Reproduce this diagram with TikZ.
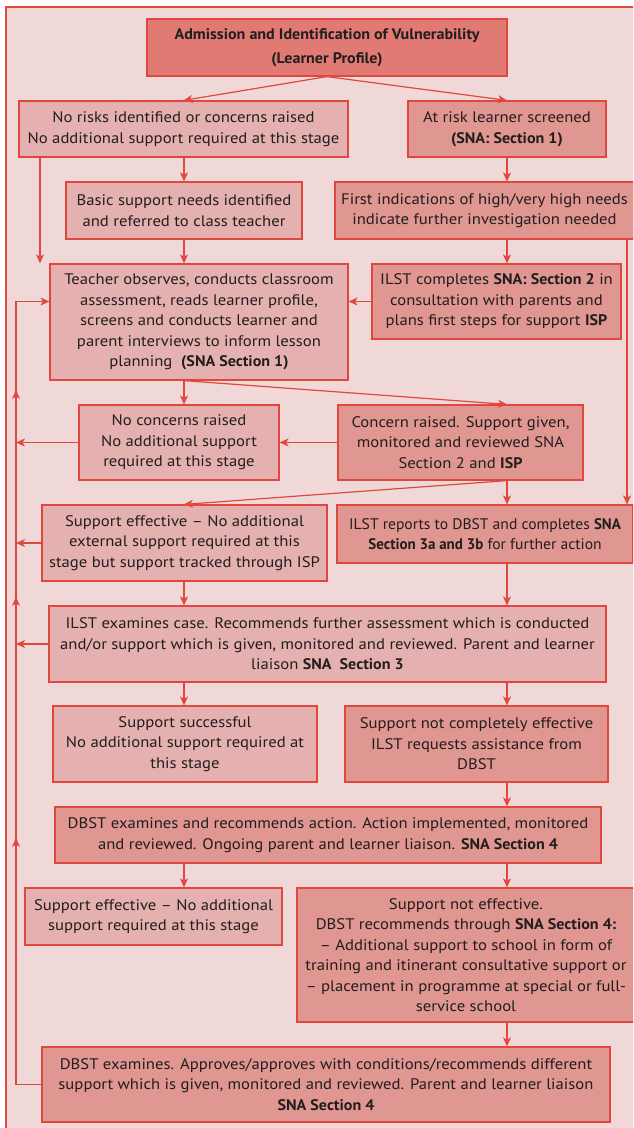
\documentclass[tikz,border=0pt]{standalone}
\usepackage{fontspec}
\setmainfont{PT Sans}[FakeStretch=1.09,BoldFeatures={FakeStretch=1.05}]
\newfontfamily\condfont{PT Sans}[FakeStretch=1.02,BoldFeatures={FakeStretch=0.98}]
\usetikzlibrary{arrows.meta,decorations.markings}
\definecolor{bgc}{RGB}{239,216,215}
\definecolor{lboxc}{RGB}{229,177,176}
\definecolor{dboxc}{RGB}{224,150,145}
\definecolor{topc}{RGB}{224,122,115}
\definecolor{linec}{RGB}{224,72,62}
\definecolor{txtc}{RGB}{34,30,30}
\tikzset{
  boxbase/.style={draw=linec, line width=1.2pt, align=center, inner sep=0pt, text=txtc,
    font=\fontsize{15.3}{20.5}\selectfont},
  lbox/.style={boxbase, fill=lboxc},
  dbox/.style={boxbase, fill=dboxc},
  tbox/.style={boxbase, fill=topc, font=\fontsize{15.3}{23.5}\selectfont\bfseries},
  conn/.style={draw=linec, line width=1.2pt},
  tip/.tip={Stealth[length=9pt,width=8pt,inset=2.5pt]},
  arr/.style={conn, -tip},
}
\begin{document}
\begin{tikzpicture}[x=1pt,y=-1pt]
\useasboundingbox (0,0) rectangle (633,1128);
\clip (0,0) rectangle (633,1128);
\fill[white] (0,0) rectangle (633,1128);
\draw[conn, fill=bgc] (6,7) rectangle (650,1150);
\coordinate (cA) at (184,0);
\coordinate (cB) at (507,0);
\coordinate (L) at (16,0);
\coordinate (N) at (40,0);
\coordinate (R) at (627,0);

\node[tbox, minimum width=360pt, minimum height=57pt] (top) at (327,47.5)
  {Admission and Identification of Vulnerability\\(Learner Profile)};
\node[lbox, minimum width=329pt, minimum height=56pt] (norisk) at (183.5,129)
  {No risks identified or concerns raised\\No additional support required at this stage};
\node[dbox, minimum width=198pt, minimum height=56pt] (atrisk) at (507,129)
  {At risk learner screened\\\textbf{(SNA: Section 1)}};
\node[lbox, minimum width=236pt, minimum height=57pt] (basic) at (184,210.5)
  {Basic support needs identified\\and referred to class teacher};
\node[dbox, minimum width=299pt, minimum height=57pt] (first) at (484.5,210.5)
  {First indications of high/very high needs\\indicate further investigation needed};
\node[lbox, minimum width=298pt, minimum height=116pt] (teacher) at (199,322)
  {Teacher observes, conducts classroom\\assessment, reads learner profile,\\screens and conducts learner and\\parent interviews to inform lesson\\planning~ \textbf{(SNA Section 1)}};
\node[dbox, minimum width=249pt, minimum height=75pt] (ilstc) at (496.5,301.5)
  {ILST completes \textbf{SNA: Section 2} in\\consultation with parents and\\plans first steps for support \textbf{ISP}};
\node[lbox, minimum width=200pt, minimum height=75pt] (noconc) at (179,442.5)
  {No concerns raised\\No additional support\\required at this stage};
\node[dbox, minimum width=245pt, minimum height=75pt] (concern) at (460.5,442.5)
  {Concern raised. Support given,\\monitored and reviewed SNA\\Section 2 and \textbf{ISP}};
\node[lbox, minimum width=285pt, minimum height=76pt] (supeffext) at (184.5,543)
  {Support effective -- No additional\\external support required at this\\stage but support tracked through ISP};
\node[dbox, minimum width=296pt, minimum height=58pt, font=\condfont\fontsize{15.3}{20.5}\selectfont] (ilstr) at (485,534)
  {ILST reports to DBST and completes \textbf{SNA}\\\textbf{Section 3a and 3b} for further action};
\node[lbox, minimum width=557pt, minimum height=76pt] (ilste) at (327.5,644)
  {ILST examines case. Recommends further assessment which is conducted\\and/or support which is given, monitored and reviewed. Parent and learner\\liaison \textbf{SNA~ Section 3}};
\node[lbox, minimum width=264pt, minimum height=76pt] (supsucc) at (185,744)
  {Support successful\\No additional support required at\\this stage};
\node[dbox, minimum width=263pt, minimum height=76pt] (supnotc) at (476.5,744)
  {Support not completely effective\\ILST requests assistance from\\DBST};
\node[dbox, minimum width=546pt, minimum height=56pt] (dbsta) at (328,835)
  {DBST examines and recommends action. Action implemented, monitored\\and reviewed. Ongoing parent and learner liaison. \textbf{SNA Section 4}};
\node[lbox, minimum width=257pt, minimum height=57pt] (supeff) at (153.5,916.5)
  {Support effective -- No additional\\support required at this stage};
\node[dbox, minimum width=338pt, minimum height=134pt] (supnot) at (466,955)
  {Support not effective.\\DBST recommends through \textbf{SNA Section 4:}\\-- Additional support to school in form of\\training and itinerant consultative support or\\-- placement in programme at special or full-\\service school};
\node[dbox, minimum width=568pt, minimum height=75pt] (dbstb) at (326,1084.5)
  {DBST examines. Approves/approves with conditions/recommends different\\support which is given, monitored and reviewed. Parent and learner liaison\\\textbf{SNA Section 4}};

% top branch
\draw[arr] (top.south) -- (norisk.north);
\draw[arr] (top.south) -- (atrisk.north);
\draw[arr] (cA |- norisk.south) -- (cA |- basic.north);
\draw[arr] (N |- norisk.south) -- (N |- teacher.north);
\draw[arr] (cA |- basic.south) -- (cA |- teacher.north);
\draw[arr] (cB |- atrisk.south) -- (cB |- first.north);
\draw[arr] (cB |- first.south) -- (cB |- ilstc.north);
\draw[arr] (R |- first.south) -- (R |- ilstr.north);
\draw[arr] (ilstc.west) -- (ilstc.west -| teacher.east);
% teacher outputs
\draw[arr] (cA |- teacher.south) -- (cA |- noconc.north);
\draw[arr] (cA |- teacher.south) -- (cB |- concern.north);
\draw[arr] (concern.west) -- (concern.west -| noconc.east);
\draw[arr] (noconc.west) -- (L |- noconc.west);
% concern outputs
\draw[arr] (cB |- concern.south) -- (cB |- ilstr.north);
\draw[arr] (cB |- concern.south) -- (cA |- supeffext.north);
\draw[arr] (supeffext.west) -- (L |- supeffext.west);
\draw[arr] (cA |- supeffext.south) -- (cA |- ilste.north);
\draw[arr] (cB |- ilstr.south) -- (cB |- ilste.north);
\draw[arr] (ilste.west) -- (L |- ilste.west);
\draw[arr] (cA |- ilste.south) -- (cA |- supsucc.north);
\draw[arr] (cB |- ilste.south) -- (cB |- supnotc.north);
\draw[arr] (cB |- supnotc.south) -- (cB |- dbsta.north);
\draw[arr] (cA |- dbsta.south) -- (cA |- supeff.north);
\draw[arr] (cB |- dbsta.south) -- (cB |- supnot.north);
\draw[arr] (cB |- supnot.south) -- (cB |- dbstb.north);
% return loop
\draw[conn, color=linec, -tip, postaction={decorate},
  decoration={markings,
    mark=at position 272pt with {\arrow{tip}},
    mark=at position 513pt with {\arrow{tip}},
    mark=at position 720pt with {\arrow{tip}}}]
  (dbstb.west) -- (L |- dbstb.west) -- (L |- ilstc.west) -- (ilstc.west -| teacher.west);
\end{tikzpicture}
\end{document}
